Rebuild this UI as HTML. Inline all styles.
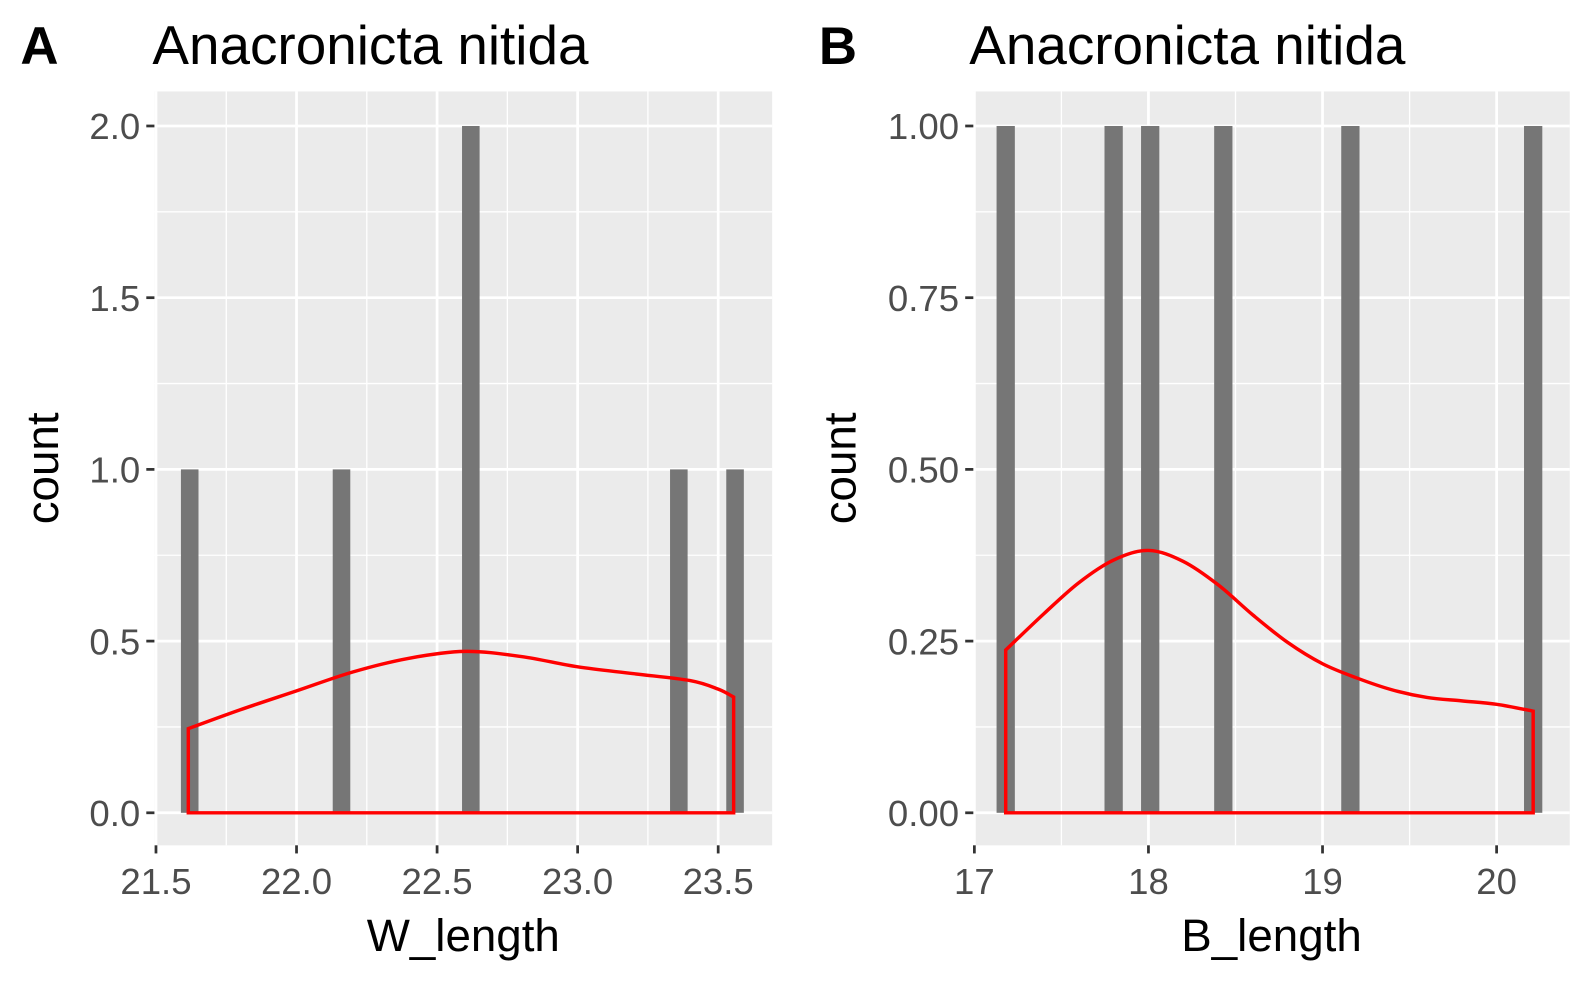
<!DOCTYPE html>
<html><head><meta charset="utf-8">
<style>
html,body{margin:0;padding:0;background:#fff;}
svg{display:block;font-family:"Liberation Sans",sans-serif;}
</style></head>
<body>
<svg width="1593" height="984" viewBox="0 0 1593 984" xmlns="http://www.w3.org/2000/svg"><g id="chart" transform="scale(1.016)"></g></svg>
<script>
// Panel A data
const aCenters = [21.62, 22.16, 22.62, 23.36, 23.56];
const aCounts = [1, 1, 2, 1, 1];
const aDensX = [21.615, 21.8, 22.0, 22.2, 22.4, 22.6, 22.8, 23.0, 23.2, 23.4, 23.5, 23.555];
const aDensY = [0.245, 0.30, 0.355, 0.41, 0.45, 0.47, 0.455, 0.425, 0.405, 0.385, 0.36, 0.337];
const aXTicks = [21.5, 22.0, 22.5, 23.0, 23.5];
const aXTickLabels = ["21.5", "22.0", "22.5", "23.0", "23.5"];
const aYTicks = [0, 0.5, 1.0, 1.5, 2.0];
const aYTickLabels = ["0.0", "0.5", "1.0", "1.5", "2.0"];
// Panel B data
const bCenters = [17.18, 17.80, 18.01, 18.43, 19.16, 20.21];
const bCounts = [1, 1, 1, 1, 1, 1];
const bDensX = [17.18, 17.4, 17.6, 17.8, 18.0, 18.2, 18.4, 18.6, 18.8, 19.0, 19.2, 19.4, 19.6, 19.8, 20.0, 20.21];
const bDensY = [0.237, 0.29, 0.335, 0.368, 0.382, 0.366, 0.332, 0.288, 0.248, 0.217, 0.196, 0.179, 0.168, 0.163, 0.158, 0.148];
const bXTicks = [17, 18, 19, 20];
const bXTickLabels = ["17", "18", "19", "20"];
const bYTicks = [0, 0.25, 0.5, 0.75, 1.0];
const bYTickLabels = ["0.00", "0.25", "0.50", "0.75", "1.00"];

const NS = "http://www.w3.org/2000/svg";
const svg = document.getElementById("chart");
function mk(tag, attrs, parent, text) {
  const e = document.createElementNS(NS, tag);
  for (const k in attrs) e.setAttribute(k, attrs[k]);
  if (text !== undefined) e.textContent = text;
  (parent || svg).appendChild(e);
  return e;
}

function panel(o) {
  const g = mk("g", {});
  
  
  const L = o.left, R = o.right, T = 90, B = 832;
  const sx = v => L + (v - o.xmin) / (o.xmax - o.xmin) * (R - L);
  const sy = v => 800 - v / o.ymax1 * 676;
  const bg = mk("rect", {x: L, y: T, width: R - L, height: B - T, fill: "#EBEBEB"}, g);
  
  
  for (let i = 0; i < o.xt.length + 1; i++) {
    const v = o.xt[0] + (i - 0.5) * (o.xt[1] - o.xt[0]);
    const x = sx(v);
    if (x > L && x < R) mk("line", {x1: x, x2: x, y1: T, y2: B, stroke: "#fff", "stroke-width": 1.3}, g);
  }
  for (let i = 0; i < o.yt.length + 1; i++) {
    const v = o.yt[0] + (i - 0.5) * (o.yt[1] - o.yt[0]);
    const y = sy(v);
    if (y > T && y < B) mk("line", {x1: L, x2: R, y1: y, y2: y, stroke: "#fff", "stroke-width": 1.3}, g);
  }
  o.xt.forEach((v, i) => {
    const x = sx(v);
    mk("line", {x1: x, x2: x, y1: T, y2: B, stroke: "#fff", "stroke-width": 2.7}, g);
    mk("line", {x1: x, x2: x, y1: B, y2: B + 8, stroke: "#333", "stroke-width": 2.7}, g);
    const t = mk("text", {x: x, y: B + 48, "text-anchor": "middle", "font-size": 36, fill: "#4D4D4D"}, g, o.xl[i]);
    
    
  });
  o.yt.forEach((v, i) => {
    const y = sy(v);
    mk("line", {x1: L, x2: R, y1: y, y2: y, stroke: "#fff", "stroke-width": 2.7}, g);
    mk("line", {x1: L - 8, x2: L, y1: y, y2: y, stroke: "#333", "stroke-width": 2.7}, g);
    const t = mk("text", {x: L - 14, y: y + 13, "text-anchor": "end", "font-size": 36, fill: "#4D4D4D"}, g, o.yl[i]);
    
    
  });
  o.centers.forEach((c, i) => {
    const w = o.bw;
    const r = mk("rect", {x: sx(c - w / 2), y: sy(o.counts[i]), width: sx(c + w / 2) - sx(c - w / 2), height: sy(0) - sy(o.counts[i]), fill: "#767676"}, g);
    
    
  });
  let pts = [[sx(o.dx[0]), sy(0)]];
  o.dx.forEach((v, i) => pts.push([sx(v), sy(o.dy[i])]));
  pts.push([sx(o.dx[o.dx.length - 1]), sy(0)]);
  let d = "M" + pts[0][0] + "," + pts[0][1] + " L" + pts[1][0] + "," + pts[1][1];
  for (let i = 1; i < pts.length - 2; i++) {
    const p0 = pts[Math.max(1, i - 1)], p1 = pts[i], p2 = pts[i + 1], p3 = pts[Math.min(pts.length - 2, i + 2)];
    const c1 = [p1[0] + (p2[0] - p0[0]) / 6, p1[1] + (p2[1] - p0[1]) / 6];
    const c2 = [p2[0] - (p3[0] - p1[0]) / 6, p2[1] - (p3[1] - p1[1]) / 6];
    d += " C" + c1 + " " + c2 + " " + p2;
  }
  d += " L" + pts[pts.length - 1] + " Z";
  const p = mk("path", {d: d, fill: "none", stroke: "#FF0000", "stroke-width": 3.4}, g);
  
  
  const tag = mk("text", {x: o.tagX, y: 63, "font-size": 52, "font-weight": "bold", fill: "#000"}, g, o.tag);
  
  
  const ti = mk("text", {x: o.titleX, y: 63, "font-size": 54, fill: "#000"}, g, "Anacronicta nitida");
  
  
  const xt = mk("text", {x: (L + R) / 2, y: 936, "text-anchor": "middle", "font-size": 45, fill: "#000"}, g, o.xlab);
  
  
  const yt = mk("text", {x: 0, y: 0, "text-anchor": "middle", "font-size": 45, fill: "#000", transform: "translate(" + (o.yTitleX) + ",461) rotate(-90)"}, g, "count");
  
  
}

panel({name: "panel-a", left: 152, right: 760, xmin: 21.4945, xmax: 23.692, ymax1: 2.0,
  xt: aXTicks, xl: aXTickLabels, yt: aYTicks, yl: aYTickLabels,
  centers: aCenters, counts: aCounts, bw: 0.0625, dx: aDensX, dy: aDensY,
  tag: "A", tagX: 20, titleX: 150, xlab: "W_length", yTitleX: 57});
panel({name: "panel-b", left: 958, right: 1545, xmin: 16.994, xmax: 20.42, ymax1: 1.0,
  xt: bXTicks, xl: bXTickLabels, yt: bYTicks, yl: bYTickLabels,
  centers: bCenters, counts: bCounts, bw: 0.105, dx: bDensX, dy: bDensY,
  tag: "B", tagX: 806, titleX: 954, xlab: "B_length", yTitleX: 842});
</script>
</body></html>
